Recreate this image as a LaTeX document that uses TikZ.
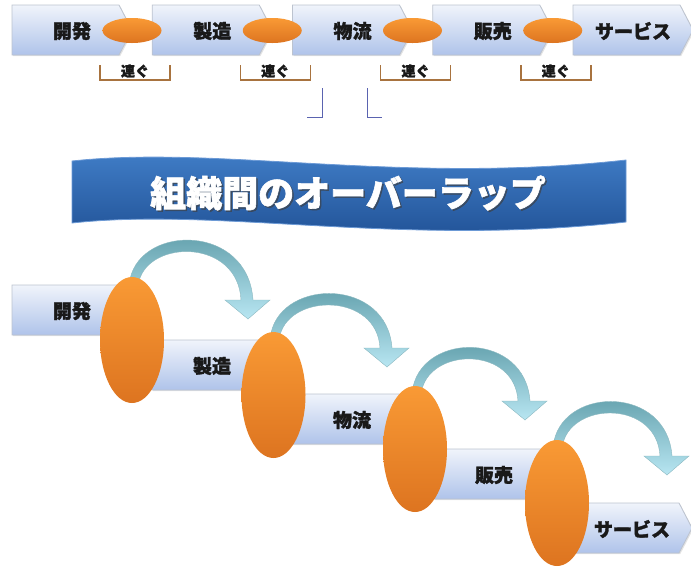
\documentclass[tikz,border=0pt]{standalone}
\usepackage{fontspec}
\setmainfont{Noto Sans CJK JP}[BoldFeatures={FakeBold=1.6}]
\usetikzlibrary{shapes.geometric,shadows}
\definecolor{boxtop}{HTML}{F0F4FB}
\definecolor{boxbot}{HTML}{AFC3EA}
\definecolor{boxline}{HTML}{BCC3CF}
\definecolor{orgtop}{HTML}{F99A35}
\definecolor{orgbot}{HTML}{DD7420}
\definecolor{bantop}{HTML}{4280CA}
\definecolor{banbot}{HTML}{1E4E92}
\definecolor{banline}{HTML}{6C9AD6}
\definecolor{brk}{HTML}{A8733F}
\definecolor{bl}{HTML}{5A63B0}
\definecolor{arrtop}{HTML}{5A99A5}
\definecolor{arrbot}{HTML}{B8E6F2}
\tikzset{
  boxfill/.style={top color=boxtop, bottom color=boxbot, draw=boxline, line width=0.8pt,
    drop shadow={opacity=0.22, shadow xshift=1.2pt, shadow yshift=-1.2pt}},
  boxtext/.style={font=\bfseries\fontsize{19}{21}\selectfont, text=black!90, inner sep=0pt},
  linktext/.style={font=\bfseries\fontsize{14}{16}\selectfont, text=black!90, inner sep=0pt},
  orgell/.style={ellipse, inner sep=0pt, top color=orgtop, bottom color=orgbot, draw=none},
  bracketline/.style={draw=brk, line width=1.5pt},
  blueline/.style={draw=bl, line width=0.9pt},
  bannerfill/.style={top color=bantop, bottom color=banbot, draw=banline, line width=0.8pt},
  bannertext/.style={font=\bfseries\fontsize{36}{40}\selectfont, text=white, inner sep=0pt},
  bannershadow/.style={font=\bfseries\fontsize{36}{40}\selectfont, text=black!75, inner sep=0pt, opacity=0.6},
  arrfill/.style={top color=arrtop, bottom color=arrbot, draw=arrtop!70!white, line width=0.4pt},
}
\newcommand{\homeplate}[4]{%
  \path[boxfill] (#2,#3) -- (#2+107,#3) -- (#2+120,#3+25) -- (#2+107,#3+50) -- (#2,#3+50) -- cycle;
  \node[boxtext] (#1) at (#2+60,#3+26) {#4};}
\begin{document}
\begin{tikzpicture}[x=1pt,y=-1pt]
\useasboundingbox (0,0) rectangle (691,566);
% ---------- top row ----------
\homeplate{a1}{12}{5}{開発}
\homeplate{a2}{152.25}{5}{製造}
\homeplate{a3}{292.5}{5}{物流}
\homeplate{a4}{432.75}{5}{販売}
\homeplate{a5}{573}{5}{サービス}
\foreach \i in {0,1,2,3}{
  \node[orgell, minimum width=59pt, minimum height=25pt] (t\i) at (132+140.25*\i,30.5) {};
  \path[bracketline] (100+140.25*\i,65) -- (100+140.25*\i,80) -- (170+140.25*\i,80) -- (170+140.25*\i,65);
  \node[linktext] (c\i) at (135+140.25*\i,71) {連ぐ};
}
% small blue marks
\path[blueline] (322,88) -- (322,117) -- (307,117);
\path[blueline] (367,88) -- (367,117) -- (382,117);
% ---------- banner ----------
\path[bannerfill] (72,161) .. controls (220,145) and (400,185) .. (626,160) -- (626,222)
   .. controls (400,247) and (220,207) .. (72,223) -- cycle;
\node[bannershadow] (titleshadow) at (349.5,194.5) {組織間のオーバーラップ};
\node[bannertext] (title) at (348,193) {組織間のオーバーラップ};
% ---------- staircase ----------
\homeplate{b1}{12}{285}{開発}
\homeplate{b2}{152}{340}{製造}
\homeplate{b3}{292}{394}{物流}
\homeplate{b4}{434}{449}{販売}
\homeplate{b5}{572}{503}{サービス}
\foreach \sx/\sy/\tx/\ty in {134/279/248/319, 275/333/387/367, 417/387/525/420, 558/441/667/475}{
  \path[arrfill] (\sx-4,\sy) .. controls (\sx+8,\sy-55) and (\tx,\sy-55) .. (\tx+5,\ty-19)
     -- (\tx+22,\ty-19) -- (\tx,\ty) -- (\tx-23,\ty-19) -- (\tx-7,\ty-19)
     .. controls (\tx-10,\sy-40) and (\sx+16,\sy-40) .. (\sx+5,\sy+2) -- cycle;
}
\node[orgell, minimum width=64pt, minimum height=126pt] (e1) at (132,340) {};
\node[orgell, minimum width=64pt, minimum height=126pt] (e2) at (273.5,395) {};
\node[orgell, minimum width=64pt, minimum height=126pt] (e3) at (415,449) {};
\node[orgell, minimum width=64pt, minimum height=126pt] (e4) at (557,503) {};
\end{tikzpicture}
\end{document}
